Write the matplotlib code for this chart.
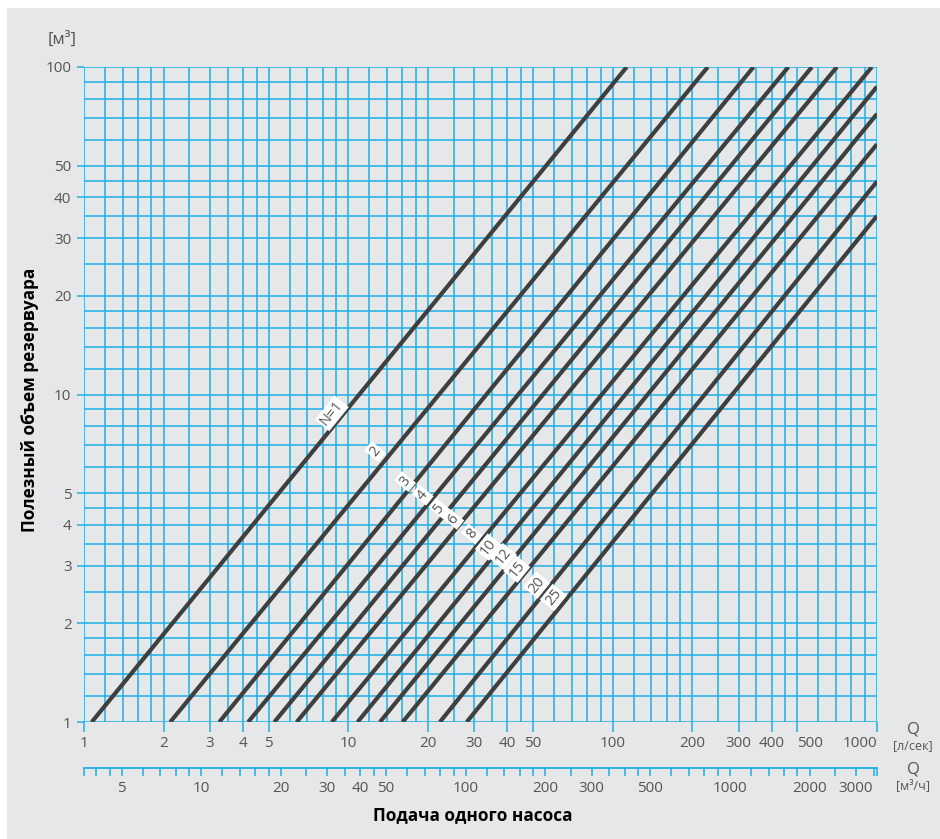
"""Pump sump volume chart: useful tank volume vs. flow of one pump, per N starts."""
import matplotlib
matplotlib.use("Agg")
import matplotlib.pyplot as plt
from matplotlib.patches import Rectangle
from matplotlib.ticker import NullLocator

# --- data ---
N_LABELS = ["N=1", "2", "3", "4", "5", "6", "8", "10", "12", "15", "20", "25"]
Q_START = [1.07, 2.12, 3.25, 4.18, 5.25, 6.38, 8.66, 10.84, 13.17, 16.05, 22.2, 28.05]
V_START = [1, 1, 1, 1, 1, 1, 1, 1, 1, 1, 1, 1]
Q_END = [113, 229, 341, 462, 567, 705, 956, 1000, 1000, 1000, 1000, 1000]
V_END = [100, 100, 100, 100, 100, 100, 100, 87.1, 71.9, 58.1, 44.7, 35.1]
# label anchor points (data coords)
LBL_Q = [8.66, 12.62, 16.39, 19.12, 22.10, 24.96, 29.31, 33.86, 38.59, 43.37, 51.62, 59.65]
LBL_V = [8.76, 6.69, 5.42, 4.93, 4.49, 4.16, 3.75, 3.42, 3.20, 2.93, 2.62, 2.40]

X_TICKS = [1, 2, 3, 4, 5, 10, 20, 30, 40, 50, 100, 200, 300, 400, 500, 1000]
Y_TICKS = [1, 2, 3, 4, 5, 10, 20, 30, 40, 50, 100]
M3H_TICKS = [5, 10, 20, 30, 40, 50, 100, 200, 300, 500, 1000, 2000, 3000]
GRID_MANT = [1, 1.2, 1.4, 1.6, 1.8, 2, 2.5, 3, 3.5, 4, 4.5, 5, 6, 7, 8, 9]
LS_TO_M3H = 3.6

BLUE = "#1db0e8"
LINE = "#3f3f3f"
TXT = "#555555"
BG = "#e6e7e9"
FONT = "Open Sans"
TICK_FS = 11

W, H = 940, 839
fig = plt.figure(figsize=(W / 100, H / 100), dpi=100)
fig.patch.set_facecolor("white")
fig.add_artist(Rectangle((7 / W, 0), 1, (H - 8) / H, transform=fig.transFigure,
                         facecolor=BG, edgecolor="none", zorder=-10))

x0, x1, y_top, y_bot = 84, 877, 67, 722
ax = fig.add_axes([x0 / W, (H - y_bot) / H, (x1 - x0) / W, (y_bot - y_top) / H])
ax.set_facecolor("none")
ax.set_xscale("log")
ax.set_yscale("log")
ax.set_xlim(1, 1000)
ax.set_ylim(1, 100)
for s in ax.spines.values():
    s.set_visible(False)

# grid
for d in [1, 10, 100]:
    for m in GRID_MANT:
        ax.axvline(d * m, color=BLUE, lw=1.1, zorder=1)
        if d < 100:
            ax.axhline(d * m, color=BLUE, lw=1.1, zorder=1)
ax.axvline(1000, color=BLUE, lw=1.1, zorder=1)
ax.axhline(100, color=BLUE, lw=1.1, zorder=1)

# lines for each number of starts
for qs, vs, qe, ve in zip(Q_START, V_START, Q_END, V_END):
    ax.plot([qs, qe], [vs, ve], color=LINE, lw=3, solid_capstyle="butt", zorder=3)

for lbl, q, v in zip(N_LABELS, LBL_Q, LBL_V):
    ax.text(q, v, lbl, rotation=51, ha="center", va="center", fontsize=10.5,
            color=TXT, family=FONT, zorder=4,
            bbox=dict(boxstyle="square,pad=0.12", facecolor="white", edgecolor="none"))

# primary ticks
ax.xaxis.set_minor_locator(NullLocator())
ax.yaxis.set_minor_locator(NullLocator())
ax.set_xticks(X_TICKS, labels=[str(t) for t in X_TICKS])
ax.set_yticks(Y_TICKS, labels=[str(t) for t in Y_TICKS])
ax.tick_params(axis="x", direction="out", length=7, width=1.1, color=BLUE,
               labelcolor=TXT, labelsize=TICK_FS, pad=3)
ax.tick_params(axis="y", direction="out", length=5, width=1.1, color=BLUE,
               labelcolor=TXT, labelsize=TICK_FS, pad=4)
for t in ax.get_xticklabels() + ax.get_yticklabels():
    t.set_family(FONT)
xl = ax.get_xticklabels()
xl[X_TICKS.index(500)].set_ha("left")
xl[X_TICKS.index(1000)].set_ha("right")

# secondary m3/h axis
sec = ax.secondary_xaxis(-46 / (y_bot - y_top),
                         functions=(lambda q: q * LS_TO_M3H, lambda v: v / LS_TO_M3H))
minor = []
for d in [1, 10, 100, 1000]:
    for m in GRID_MANT:
        v = d * m
        if 3.6 <= v <= 3600 and v not in M3H_TICKS:
            minor.append(v)
minor += [3.6, 3600]
sec.set_xticks(M3H_TICKS, labels=[str(t) for t in M3H_TICKS])
sec.set_xticks(minor, minor=True)
sec.xaxis.set_minor_formatter(plt.NullFormatter())
sec.spines["bottom"].set_color(BLUE)
sec.spines["bottom"].set_linewidth(1.3)
sec.tick_params(axis="x", which="both", direction="out", length=6, width=1.1,
                color=BLUE, labelcolor=TXT, labelsize=TICK_FS, pad=3)
for t in sec.get_xticklabels():
    t.set_family(FONT)

# unit / axis texts
fig.text(913 / W, 1 - 730 / H, "Q", ha="center", va="center", fontsize=12, color=TXT, family=FONT)
fig.text(913 / W, 1 - 746 / H, "[л/сек]", ha="center", va="center", fontsize=9, color=TXT, family=FONT)
fig.text(913 / W, 1 - 769 / H, "Q", ha="center", va="center", fontsize=12, color=TXT, family=FONT)
fig.text(913 / W, 1 - 786 / H, "[м³/ч]", ha="center", va="center", fontsize=9, color=TXT, family=FONT)
fig.text(62 / W, 1 - 40 / H, "[м³]", ha="center", va="center", fontsize=12, color=TXT, family=FONT)
fig.text(30 / W, 1 - 400 / H, "Полезный объем резервуара", rotation=90, ha="center",
         va="center", fontsize=12.4, fontweight="bold", color="black", family=FONT)
fig.text(473 / W, 1 - 815 / H, "Подача одного насоса", ha="center", va="center",
         fontsize=12.4, fontweight="bold", color="black", family=FONT)

fig.savefig("out.png", dpi=100)
